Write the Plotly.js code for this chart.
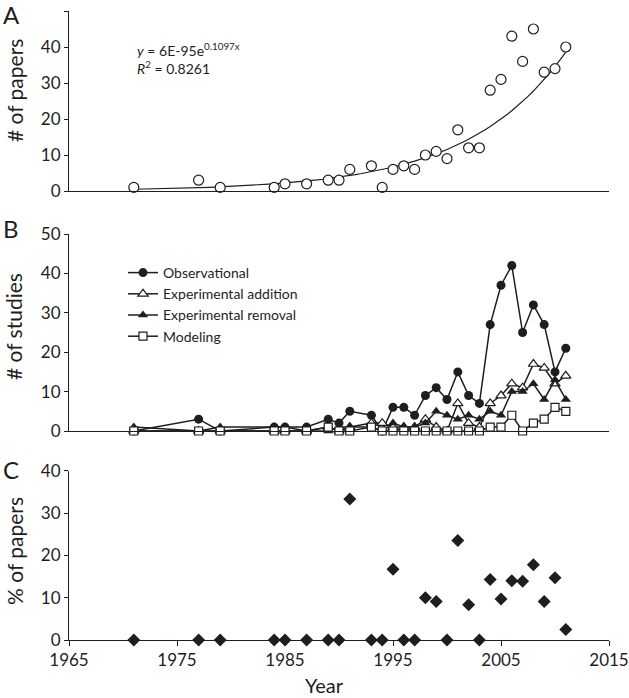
<!DOCTYPE html>
<html>
<head>
<meta charset="utf-8">
<script src="https://cdn.plot.ly/plotly-3.0.1.min.js"></script>
<style>
  html, body { margin: 0; padding: 0; background: #fff; }
  #chart { width: 629px; height: 698px; }
</style>
</head>
<body>
<div id="chart"></div>
<script>
// years that have at least one paper
const years = [1971, 1977, 1979, 1984, 1985, 1987, 1989, 1990, 1991, 1993, 1994, 1995, 1996, 1997,
  1998, 1999, 2000, 2001, 2002, 2003, 2004, 2005, 2006, 2007, 2008, 2009, 2010, 2011];

// panel A: number of papers
const papers = [1, 3, 1, 1, 2, 2, 3, 3, 6, 7, 1, 6, 7, 6, 10, 11, 9, 17, 12, 12, 28, 31, 43, 36, 45, 33, 34, 40];

// exponential fit shown on the chart (y = a * e^(b x))
const fitA = 6e-95;
const fitB = 0.1097;
const fitStart = 1971;
const fitEnd = 2011;

// panel B: number of studies by type
const observational = [0, 3, 0, 1, 1, 1, 3, 2, 5, 4, 0, 6, 6, 4, 9, 11, 8, 15, 9, 7, 27, 37, 42, 25, 32, 27, 15, 21];
const expAddition = [0, 0, 0, 0, 0, 0, 1, 0, 1, 2, 2, 1, 1, 1, 3, 1, 0, 7, 2, 1, 7, 9, 12, 11, 17, 16, 12, 14];
const expRemoval = [1, 0, 1, 1, 1, 0, 0, 1, 1, 1, 0, 2, 1, 1, 2, 5, 4, 3, 4, 3, 5, 4, 10, 10, 12, 8, 13, 8];
const modeling = [0, 0, 0, 0, 0, 0, 1, 0, 0, 1, 0, 0, 0, 0, 0, 0, 0, 0, 0, 0, 1, 1, 4, 0, 2, 3, 6, 5];

// panel C: % of papers
const percentPapers = [0, 0, 0, 0, 0, 0, 0, 0, 33.3, 0, 0, 16.7, 0, 0, 10, 9.1, 0, 23.5, 8.3, 0,
  14.3, 9.7, 14, 13.9, 17.8, 9.1, 14.7, 2.5];

const FONT = 'Lato, "Open Sans", sans-serif';
const INK = '#1e1e1e';

const fitX = [];
const fitY = [];
for (let yr = fitStart; yr <= fitEnd; yr += 0.5) {
  fitX.push(yr);
  fitY.push(fitA * Math.exp(fitB * yr));
}

const lineStyle = { color: INK, width: 1.5 };

const traces = [
  {
    x: fitX, y: fitY, xaxis: 'x', yaxis: 'y', mode: 'lines',
    line: { color: INK, width: 1.2 }, showlegend: false, hoverinfo: 'skip'
  },
  {
    x: years, y: papers, xaxis: 'x', yaxis: 'y', mode: 'markers', showlegend: false,
    marker: { symbol: 'circle', size: 10, color: '#fff', line: { color: INK, width: 1.2 } },
    cliponaxis: false
  },
  {
    x: years, y: observational, xaxis: 'x2', yaxis: 'y2', mode: 'lines+markers', name: 'Observational',
    line: lineStyle, marker: { symbol: 'circle', size: 9, color: INK }, cliponaxis: false
  },
  {
    x: years, y: expAddition, xaxis: 'x2', yaxis: 'y2', mode: 'lines+markers', name: 'Experimental addition',
    line: lineStyle, marker: { symbol: 'triangle-up', size: 9, color: '#fff', line: { color: INK, width: 1.2 } },
    cliponaxis: false
  },
  {
    x: years, y: expRemoval, xaxis: 'x2', yaxis: 'y2', mode: 'lines+markers', name: 'Experimental removal',
    line: lineStyle, marker: { symbol: 'triangle-up', size: 9, color: INK }, cliponaxis: false
  },
  {
    x: years, y: modeling, xaxis: 'x2', yaxis: 'y2', mode: 'lines+markers', name: 'Modeling',
    line: lineStyle, marker: { symbol: 'square', size: 8, color: '#fff', line: { color: INK, width: 1.2 } },
    cliponaxis: false
  },
  {
    x: years, y: percentPapers, xaxis: 'x3', yaxis: 'y3', mode: 'markers', showlegend: false,
    marker: { symbol: 'diamond', size: 10, color: INK }, cliponaxis: false
  }
];

const yBase = {
  showgrid: false, zeroline: false, showline: true, linecolor: INK, linewidth: 1,
  ticks: 'outside', ticklen: 4, tickwidth: 1, tickcolor: INK, dtick: 10,
  tickfont: { family: FONT, size: 17, color: INK }, fixedrange: true
};
const xBase = {
  range: [1965, 2015], showgrid: false, zeroline: false, showline: true,
  linecolor: INK, linewidth: 1, fixedrange: true
};

const px = v => (v - 69) / 540;      // pixel x -> paper
const py = v => (640 - v) / 629;     // pixel y -> paper

function label(text, x, y, size, extra) {
  return Object.assign({
    text, xref: 'paper', yref: 'paper', x: px(x), y: py(y), showarrow: false,
    xanchor: 'center', yanchor: 'middle',
    font: { family: FONT, size, color: INK }
  }, extra || {});
}

const layout = {
  width: 629, height: 698,
  margin: { l: 69, r: 20, t: 11, b: 58 },
  paper_bgcolor: '#fff', plot_bgcolor: '#fff',
  showlegend: true,
  legend: {
    x: px(123), y: py(257), xanchor: 'left', yanchor: 'top',
    bgcolor: 'rgba(0,0,0,0)', borderwidth: 0,
    font: { family: FONT, size: 14, color: INK }
  },
  xaxis: Object.assign({}, xBase, { anchor: 'y', showticklabels: false, ticks: '' }),
  yaxis: Object.assign({}, yBase, { domain: [py(191), py(11)], range: [0, 50] }),
  xaxis2: Object.assign({}, xBase, { anchor: 'y2', showticklabels: false, ticks: '' }),
  yaxis2: Object.assign({}, yBase, { domain: [py(431), py(234)], range: [0, 50] }),
  xaxis3: Object.assign({}, xBase, {
    anchor: 'y3', ticks: 'outside', ticklen: 5, tickcolor: INK, tick0: 1965, dtick: 10,
    tickfont: { family: FONT, size: 17, color: INK }
  }),
  yaxis3: Object.assign({}, yBase, { domain: [py(640), py(470.7)], range: [0, 40] }),
  annotations: [
    label('A', 11, 14, 24),
    label('B', 11, 229, 24),
    label('C', 11, 469, 24),
    label('# of papers', 14, 91, 21, { textangle: -90 }),
    label('# of studies', 14, 327, 21, { textangle: -90 }),
    label('% of papers', 14, 551, 21, { textangle: -90 }),
    label('Year', 324, 685, 20),
    label('<i>y</i> = 6E-95e<sup>0.1097x</sup><br><i>R</i><sup>2</sup> = 0.8261', 135, 58, 14,
      { xanchor: 'left', align: 'left' })
  ]
};

Plotly.newPlot('chart', traces, layout, { displayModeBar: false, staticPlot: true });
</script>
</body>
</html>
